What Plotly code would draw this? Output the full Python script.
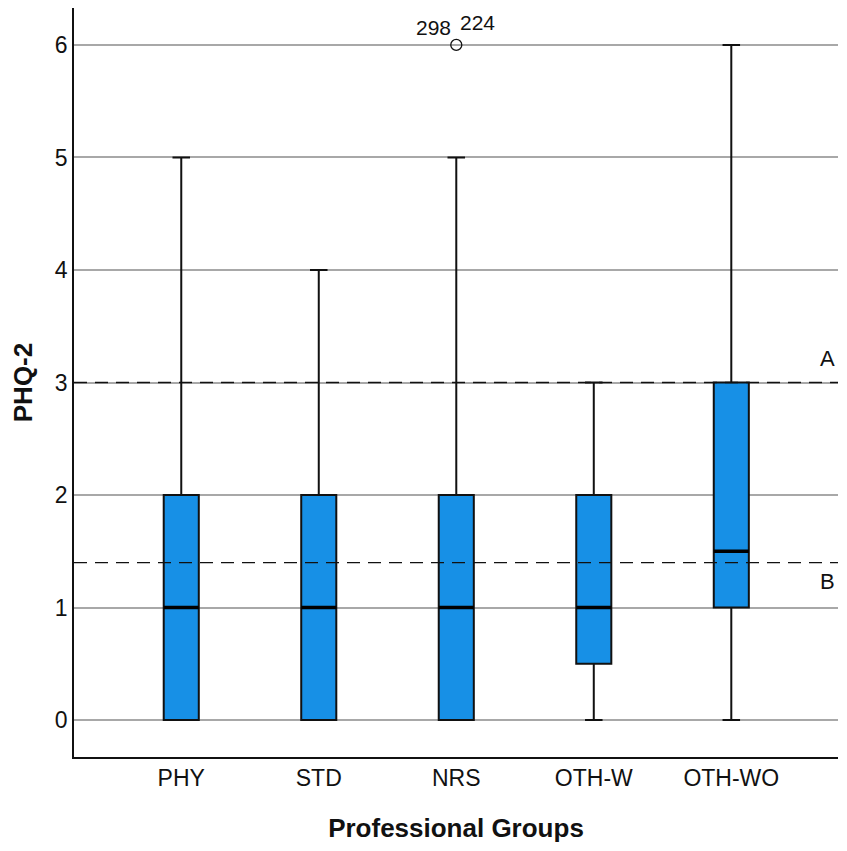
import plotly.graph_objects as go

groups = ["PHY", "STD", "NRS", "OTH-W", "OTH-WO"]
lower = [0, 0, 0, 0, 0]
q1 = [0, 0, 0, 0.5, 1]
median = [1, 1, 1, 1, 1.5]
q3 = [2, 2, 2, 2, 3]
upper = [5, 4, 5, 3, 6]
outlier_group = [2]
outlier_value = [6]
outlier_ids = ["298", "224"]
ref_values = [3, 1.4]
ref_labels = ["A", "B"]

pos = list(range(len(groups)))
box_w = 0.255
FONT = "Liberation Sans, Arial, sans-serif"

fig = go.Figure()
fig.add_trace(go.Box(
    x=pos, q1=q1, median=median, q3=q3, lowerfence=lower, upperfence=upper,
    width=box_w, whiskerwidth=0.5,
    fillcolor="#1790E6", line=dict(color="#111111", width=2),
    boxpoints=False, showlegend=False, hoverinfo="skip",
))
# thicker median lines
for p, m in zip(pos, median):
    fig.add_trace(go.Scatter(
        x=[p - box_w / 2, p + box_w / 2], y=[m, m], mode="lines",
        line=dict(color="#000000", width=3.5), showlegend=False, hoverinfo="skip",
    ))
# outlier
fig.add_trace(go.Scatter(
    x=outlier_group, y=outlier_value, mode="markers",
    marker=dict(symbol="circle-open", size=11, color="#111111", line=dict(width=1.3)),
    showlegend=False, hoverinfo="skip",
))
fig.add_annotation(x=outlier_group[0], y=outlier_value[0], text=outlier_ids[0],
                   showarrow=False, xshift=-23, yshift=17,
                   font=dict(family=FONT, size=21, color="#111111"))
fig.add_annotation(x=outlier_group[0], y=outlier_value[0], text=outlier_ids[1],
                   showarrow=False, xshift=21, yshift=22,
                   font=dict(family=FONT, size=21, color="#111111"))

# reference lines
for v in ref_values:
    fig.add_shape(type="line", xref="paper", x0=0, x1=1, yref="y", y0=v, y1=v,
                  line=dict(color="#111111", width=1.3, dash="13px,8px"), layer="above")
fig.add_annotation(x=4.70, y=ref_values[0], text=ref_labels[0], showarrow=False,
                   yshift=24, font=dict(family=FONT, size=22, color="#111111"))
fig.add_annotation(x=4.70, y=ref_values[1], text=ref_labels[1], showarrow=False,
                   yshift=-19, font=dict(family=FONT, size=22, color="#111111"))

fig.update_layout(
    width=831, height=835,
    margin=dict(l=66, r=1, t=0, b=86),
    paper_bgcolor="white", plot_bgcolor="white",
    font=dict(family=FONT, size=23, color="#111111"),
    xaxis=dict(
        range=[-0.78, 4.776], tickmode="array", tickvals=pos, ticktext=groups,
        showgrid=False, zeroline=False, showline=True, linecolor="#111111", linewidth=1.5,
        ticks="", tickfont=dict(size=23),
        title=dict(text="<b>Professional Groups</b>", font=dict(size=26), standoff=30),
    ),
    yaxis=dict(
        range=[-0.328, 6.328], tickmode="array", tickvals=[0, 1, 2, 3, 4, 5, 6],
        showgrid=True, gridcolor="#a8a8a8", gridwidth=1.5, zeroline=False,
        showline=True, linecolor="#111111", linewidth=1.5, ticks="",
        tickfont=dict(size=23), ticklabelstandoff=0, automargin=False,
        title=dict(text="<b>PHQ-2</b>", font=dict(size=26), standoff=36),
    ),
)

fig.write_html("out.html")
